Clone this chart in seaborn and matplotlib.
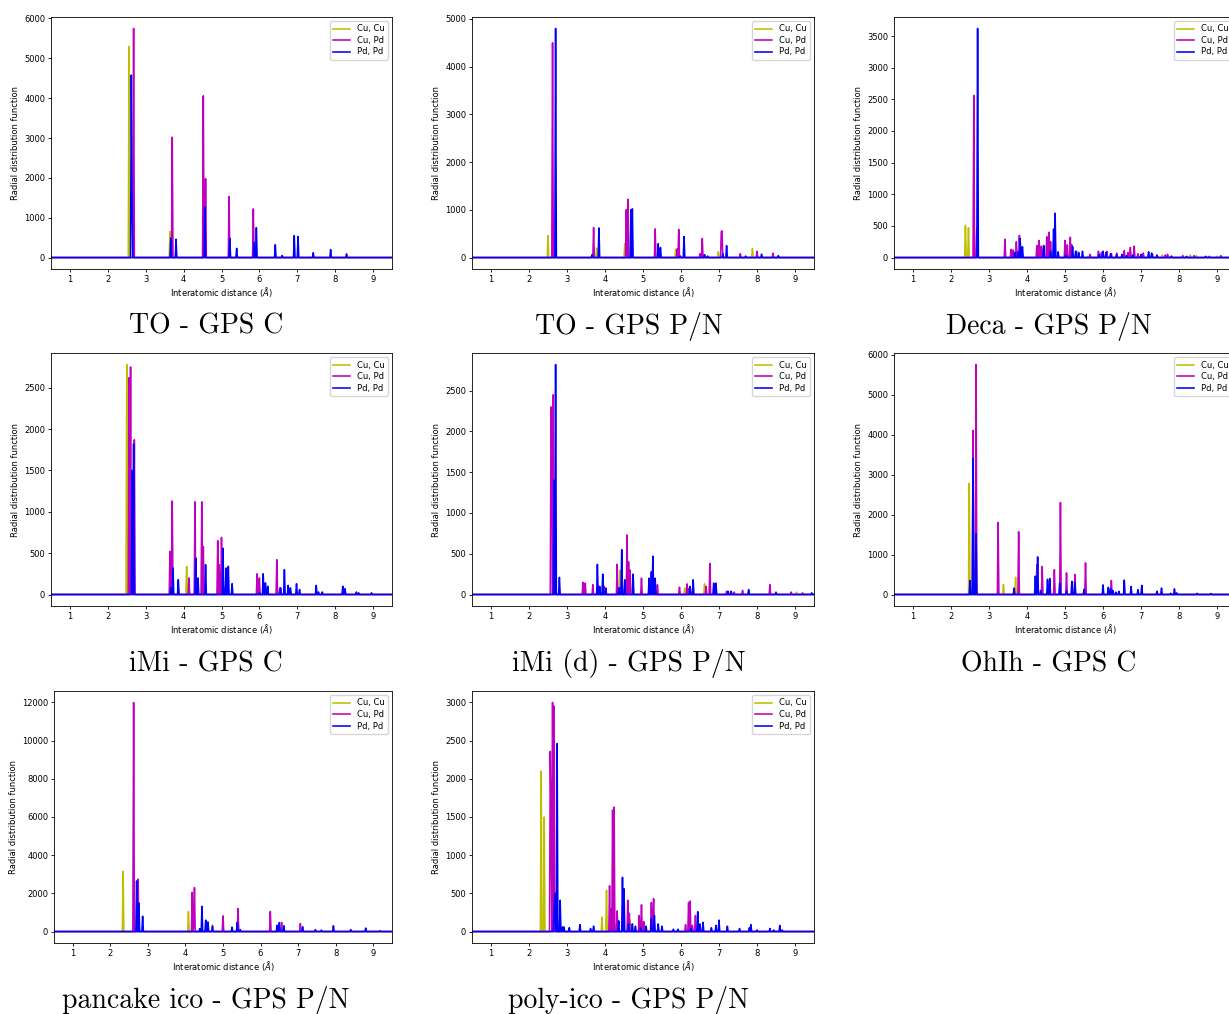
import numpy as np
import pandas as pd
import matplotlib
matplotlib.use("Agg")
import matplotlib.pyplot as plt
import seaborn as sns

# ---------------- data: RDF peaks (position in Å, height) ----------------
TITLES = ["TO - GPS C", "TO - GPS P/N", "Deca - GPS P/N",
          "iMi - GPS C", "iMi (d) - GPS P/N", "OhIh - GPS C",
          "pancake ico - GPS P/N", "poly-ico - GPS P/N"]
SERIES = ["Cu, Cu", "Cu, Pd", "Pd, Pd"]

TO_C_CuCu = [(2.56, 5300), (3.64, 650)]
TO_C_CuPd = [(2.68, 5750), (3.70, 3020), (4.52, 4060), (4.58, 1980), (5.20, 1530), (5.84, 1220)]
TO_C_PdPd = [(2.62, 4580), (2.64, 1450), (3.66, 490), (3.80, 460), (4.56, 1270), (5.22, 480),
             (5.40, 230), (5.86, 380), (5.92, 750), (6.42, 320), (6.60, 50), (6.92, 550),
             (7.02, 530), (7.42, 120), (7.88, 200), (8.30, 90)]

TO_PN_CuCu = [(2.50, 460), (3.78, 200), (4.52, 290), (5.86, 180), (6.98, 120), (7.88, 190)]
TO_PN_CuPd = [(2.62, 4500), (3.70, 630), (4.56, 1000), (4.60, 1220), (5.32, 600), (5.90, 180),
              (5.94, 590), (6.50, 80), (6.56, 400), (7.06, 540), (7.08, 560), (7.56, 80),
              (8.00, 130), (8.42, 90)]
TO_PN_PdPd = [(2.70, 4800), (3.66, 60), (3.84, 620), (4.68, 1000), (4.72, 1020), (5.40, 290),
              (5.46, 210), (5.98, 30), (6.08, 440), (6.62, 60), (6.70, 30), (7.10, 80),
              (7.20, 250), (7.70, 30), (8.12, 70), (8.56, 40)]

DECA_CuCu = [(2.38, 510), (2.46, 470), (5.04, 30), (5.60, 20), (6.20, 30), (6.90, 20),
             (7.56, 40), (7.80, 30), (8.30, 40), (8.46, 30), (9.00, 20)]
DECA_CuPd = [(2.60, 2560), (2.68, 470), (3.42, 290), (3.58, 130), (3.64, 120), (3.72, 250),
             (3.80, 350), (3.86, 150), (4.26, 190), (4.32, 270), (4.38, 180), (4.42, 120),
             (4.52, 330), (4.58, 400), (4.62, 250), (5.00, 270), (5.06, 200), (5.14, 320),
             (5.18, 200), (5.30, 100), (5.66, 50), (5.88, 100), (5.96, 80), (6.10, 100),
             (6.22, 60), (6.36, 70), (6.56, 110), (6.66, 80), (6.72, 160), (6.82, 180),
             (6.92, 60), (7.06, 70), (7.30, 50), (7.64, 40), (7.70, 50), (8.10, 30),
             (8.40, 30), (8.80, 20), (9.10, 30)]
DECA_PdPd = [(2.70, 3620), (3.68, 80), (3.76, 90), (3.82, 300), (3.88, 170), (4.44, 190),
             (4.62, 100), (4.70, 450), (4.74, 700), (4.82, 90), (5.02, 40), (5.20, 170),
             (5.28, 100), (5.36, 80), (5.46, 100), (5.90, 50), (6.00, 100), (6.08, 80),
             (6.20, 60), (6.36, 40), (6.50, 50), (6.62, 30), (6.78, 40), (7.00, 50),
             (7.20, 90), (7.28, 70), (7.42, 40), (7.80, 20), (8.20, 20), (8.70, 20)]

IMI_C_CuCu = [(2.50, 2780), (2.62, 420), (4.08, 340)]
IMI_C_CuPd = [(2.56, 2620), (2.60, 2750), (2.64, 480), (2.70, 1870), (3.64, 520), (3.70, 1130),
              (4.14, 200), (4.30, 1120), (4.48, 1120), (4.52, 580), (4.90, 650), (4.94, 360),
              (5.00, 690), (5.08, 80), (5.94, 250), (6.00, 200), (6.46, 420), (6.54, 80)]
IMI_C_PdPd = [(2.64, 1500), (2.68, 1820), (3.66, 80), (3.72, 320), (3.86, 180), (4.32, 440),
              (4.38, 200), (4.58, 360), (5.04, 560), (5.12, 320), (5.18, 340), (5.28, 130),
              (6.00, 20), (6.10, 250), (6.16, 140), (6.22, 100), (6.56, 80), (6.66, 300),
              (6.76, 110), (6.82, 80), (6.98, 130), (7.06, 60), (7.50, 110), (7.56, 30),
              (7.66, 30), (8.20, 100), (8.26, 70), (8.56, 30), (8.62, 20), (8.96, 20)]

IMID_PN_CuCu = [(4.40, 300), (4.66, 130), (5.26, 150), (6.10, 80), (6.62, 130), (9.04, 30)]
IMID_PN_CuPd = [(2.58, 2300), (2.60, 1750), (2.64, 2450), (2.68, 1000), (3.42, 150), (3.48, 140),
                (3.68, 120), (3.98, 100), (4.32, 370), (4.40, 90), (4.58, 730), (4.62, 400),
                (4.66, 300), (4.96, 200), (5.20, 120), (5.26, 200), (5.38, 120), (5.96, 90),
                (6.16, 130), (6.22, 80), (6.66, 100), (6.76, 380), (7.20, 40), (7.40, 30),
                (7.62, 50), (8.34, 120), (8.50, 30), (8.90, 30), (9.20, 20)]
IMID_PN_PdPd = [(2.66, 1400), (2.70, 2820), (2.80, 210), (3.80, 370), (3.86, 100), (3.94, 250),
                (4.02, 80), (4.36, 80), (4.44, 550), (4.52, 180), (4.74, 250), (5.16, 200),
                (5.22, 280), (5.26, 470), (5.32, 200), (6.24, 100), (6.32, 180), (6.86, 140),
                (6.92, 140), (7.24, 40), (7.32, 40), (7.78, 60), (8.50, 20), (9.44, 20)]

OHIH_C_CuCu = [(2.48, 2780), (3.38, 250), (3.70, 430), (4.28, 50)]
OHIH_C_CuPd = [(2.58, 4100), (2.66, 5750), (3.24, 1800), (3.78, 1570), (4.26, 750), (4.40, 700),
               (4.72, 620), (4.88, 2300), (5.04, 540), (5.26, 500), (5.54, 790), (6.22, 350),
               (7.02, 50)]
OHIH_C_PdPd = [(2.50, 350), (2.58, 3400), (2.66, 1520), (3.66, 160), (4.22, 460), (4.28, 940),
               (4.36, 100), (4.54, 380), (4.60, 400), (4.86, 280), (5.04, 90), (5.18, 330),
               (5.26, 300), (5.50, 130), (6.00, 240), (6.14, 180), (6.20, 150), (6.26, 100),
               (6.34, 60), (6.42, 80), (6.56, 360), (6.74, 200), (6.92, 120), (7.02, 230),
               (7.42, 80), (7.54, 160), (7.78, 30), (7.88, 140), (7.94, 40), (8.48, 30), (8.84, 25)]

PAN_PN_CuCu = [(2.34, 3150), (4.08, 1050), (4.72, 350)]
PAN_PN_CuPd = [(2.62, 12000), (2.74, 2750), (4.18, 2050), (4.22, 300), (4.24, 2300), (5.00, 820),
               (5.40, 1200), (6.26, 1050), (6.56, 480), (7.06, 420)]
PAN_PN_PdPd = [(2.70, 2650), (2.76, 1500), (2.86, 800), (4.38, 150), (4.44, 1320), (4.54, 600),
               (4.60, 500), (4.72, 280), (5.24, 230), (5.38, 480), (5.46, 100), (6.44, 330),
               (6.50, 470), (6.62, 300), (7.12, 250), (7.46, 100), (7.62, 70), (7.94, 300),
               (8.40, 100), (8.80, 180), (9.18, 40)]

POLY_PN_CuCu = [(2.32, 2100), (2.40, 1500), (3.92, 190), (4.04, 540), (4.66, 150), (5.26, 80),
                (6.24, 60)]
POLY_PN_CuPd = [(2.56, 2360), (2.58, 1540), (2.62, 3000), (2.66, 2950), (2.70, 500), (4.12, 600),
                (4.16, 300), (4.20, 1590), (4.24, 1630), (4.32, 270), (4.48, 170), (4.60, 410),
                (4.64, 240), (4.90, 210), (4.96, 350), (5.02, 130), (5.22, 380), (5.26, 200),
                (5.28, 430), (6.12, 90), (6.20, 380), (6.24, 400), (6.30, 80), (6.38, 210)]
POLY_PN_PdPd = [(2.66, 300), (2.68, 500), (2.74, 2460), (2.82, 410), (2.88, 60), (2.92, 60),
                (3.06, 50), (3.34, 90), (3.62, 40), (3.70, 70), (4.36, 140), (4.46, 710),
                (4.50, 560), (4.62, 100), (4.72, 100), (4.80, 70), (4.94, 50), (5.08, 70),
                (5.22, 170), (5.30, 210), (5.40, 100), (5.50, 70), (5.80, 30), (5.92, 30),
                (6.26, 40), (6.44, 260), (6.50, 100), (6.58, 120), (6.80, 50), (6.92, 80),
                (7.00, 150), (7.22, 70), (7.54, 40), (7.80, 50), (7.84, 90), (8.00, 20),
                (8.34, 40), (8.44, 20), (8.60, 80), (8.66, 20)]

PANELS = [
    (TO_C_CuCu, TO_C_CuPd, TO_C_PdPd),
    (TO_PN_CuCu, TO_PN_CuPd, TO_PN_PdPd),
    (DECA_CuCu, DECA_CuPd, DECA_PdPd),
    (IMI_C_CuCu, IMI_C_CuPd, IMI_C_PdPd),
    (IMID_PN_CuCu, IMID_PN_CuPd, IMID_PN_PdPd),
    (OHIH_C_CuCu, OHIH_C_CuPd, OHIH_C_PdPd),
    (PAN_PN_CuCu, PAN_PN_CuPd, PAN_PN_PdPd),
    (POLY_PN_CuCu, POLY_PN_CuPd, POLY_PN_PdPd),
]

# ---------------- histogram grid ----------------
STEP = 0.02
GRID = np.round(np.arange(0.30, 9.72, STEP), 2)


def binned(peaks):
    y = np.zeros_like(GRID)
    for pos, h in peaks:
        i = int(round((pos - GRID[0]) / STEP))
        y[i] = max(y[i], h)
    return y


# ---------------- figure ----------------
W, H = 1229, 1014
fig = plt.figure(figsize=(W / 100, H / 100), dpi=100)
COLORS = ["#bfbf00", "#bf00bf", "#0000ff"]

col_lr = [(51, 392), (472, 814), (894, 1236)]
row_tb = [(17, 269), (353, 606), (691, 943)]
cap_x = [206, 629, 1049]
cap_base = [334, 671, 1008]

for k, (title, panel) in enumerate(zip(TITLES, PANELS)):
    r, c = divmod(k, 3)
    l, rr = col_lr[c]
    if k == 6:
        l = 54
    t, b = row_tb[r]
    ax = fig.add_axes([l / W, 1 - b / H, (rr - l) / W, (b - t) / H])
    for name, peaks, col in zip(SERIES, panel, COLORS):
        df = pd.DataFrame({"x": GRID, "y": binned(peaks)})
        sns.lineplot(data=df, x="x", y="y", color=col, lw=1.15, ax=ax,
                     label=name, sort=False, estimator=None)
    ax.set_xlim(0.5, 9.5)
    ax.set_xticks(range(1, 10))
    ax.set_xlabel(r"Interatomic distance ($\AA$)", fontsize=6, labelpad=1)
    ax.set_ylabel("Radial distribution function", fontsize=6, labelpad=3)
    ax.tick_params(labelsize=6, length=2.2, width=0.6, pad=2)
    for s in ax.spines.values():
        s.set_linewidth(0.6)
    ax.legend(loc="upper right", fontsize=6, handlelength=2.0,
              borderpad=0.4, labelspacing=0.3, framealpha=0.8)
    fig.text(cap_x[c] / W, 1 - cap_base[r] / H, title, ha="center", va="baseline",
             fontsize=20, family=["cmr10", "DejaVu Serif"])

fig.savefig("out.png", dpi=100)
